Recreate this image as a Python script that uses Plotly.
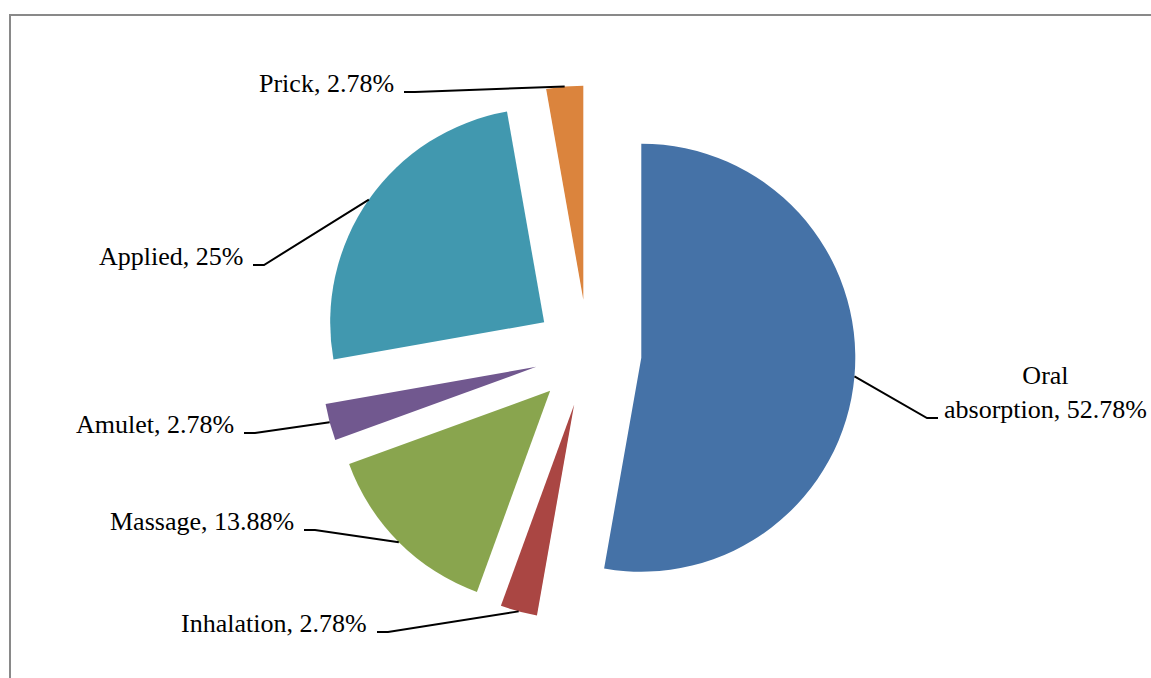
import math
import plotly.graph_objects as go

# ---- data -------------------------------------------------------------
categories = ["Oral absorption", "Inhalation", "Massage", "Amulet", "Applied", "Prick"]
shares = [52.78, 2.78, 13.88, 2.78, 25, 2.78]
label_texts = ["Oral<br>absorption, 52.78%", "Inhalation, 2.78%", "Massage, 13.88%",
               "Amulet, 2.78%", "Applied, 25%", "Prick, 2.78%"]
colors = ["#4572A7", "#AA4643", "#89A54E", "#71588F", "#4198AF", "#DB843D"]

# ---- layout (pixels) ---------------------------------------------------
W, H = 1151, 678
CX, CY = 588, 353          # pie centre
R = 214                    # slice radius
PULL = 0.25                # explosion of every slice, fraction of radius
FONT = dict(family="Liberation Serif, Times New Roman, serif", size=26, color="black")

# elbow of each leader line, side the label sits on, baseline of label text
label_elbow = [(927, 418), (388, 632), (315, 530), (255, 433), (264, 265), (415, 92)]
label_side = ["right", "left", "left", "left", "left", "left"]


def px(x):
    return x / W


def py(y):
    return 1 - y / H


half = R * (1 + PULL)
domain = dict(x=[px(CX - half), px(CX + half)], y=[py(CY + half), py(CY - half)])

fig = go.Figure(go.Pie(
    labels=categories,
    values=shares,
    sort=False,
    direction="clockwise",
    rotation=0,
    pull=[PULL] * len(shares),
    marker=dict(colors=colors, line=dict(width=0)),
    textinfo="none",
    hoverinfo="label+percent",
    domain=domain,
    showlegend=False,
))

shapes = []
annotations = []
total = sum(shares)
cum = 0.0
for i, v in enumerate(shares):
    theta = math.radians(360 * (cum + v / 2) / total)
    cum += v
    # midpoint of the slice's outer arc after the pull
    ax = CX + half * math.sin(theta)
    ay = CY - half * math.cos(theta)
    ex, ey = label_elbow[i]
    if label_side[i] == "left":
        tx = ex - 11
        text_x = tx - 8
        xanchor = "right"
    else:
        tx = ex + 11
        text_x = tx + 4
        xanchor = "left"
    shapes.append(dict(
        type="path", xref="paper", yref="paper",
        path=f"M {px(ax)},{py(ay)} L {px(ex)},{py(ey)} L {px(tx)},{py(ey)}",
        line=dict(color="black", width=2),
    ))
    annotations.append(dict(
        x=px(text_x), y=py(ey + 1), xref="paper", yref="paper",
        xanchor=xanchor, yanchor="bottom", align="center",
        text=label_texts[i], showarrow=False, font=FONT,
        yshift=-7,
    ))

# chart frame (top and left edges visible)
frame = dict(color="#898989", width=2)
shapes.append(dict(type="line", xref="paper", yref="paper",
                   x0=px(9), y0=py(15), x1=1, y1=py(15), line=frame))
shapes.append(dict(type="line", xref="paper", yref="paper",
                   x0=px(10), y0=py(14), x1=px(10), y1=0, line=frame))

fig.update_layout(
    width=W, height=H,
    margin=dict(l=0, r=0, t=0, b=0),
    paper_bgcolor="white", plot_bgcolor="white",
    shapes=shapes, annotations=annotations,
)

fig.write_html("out.html")
